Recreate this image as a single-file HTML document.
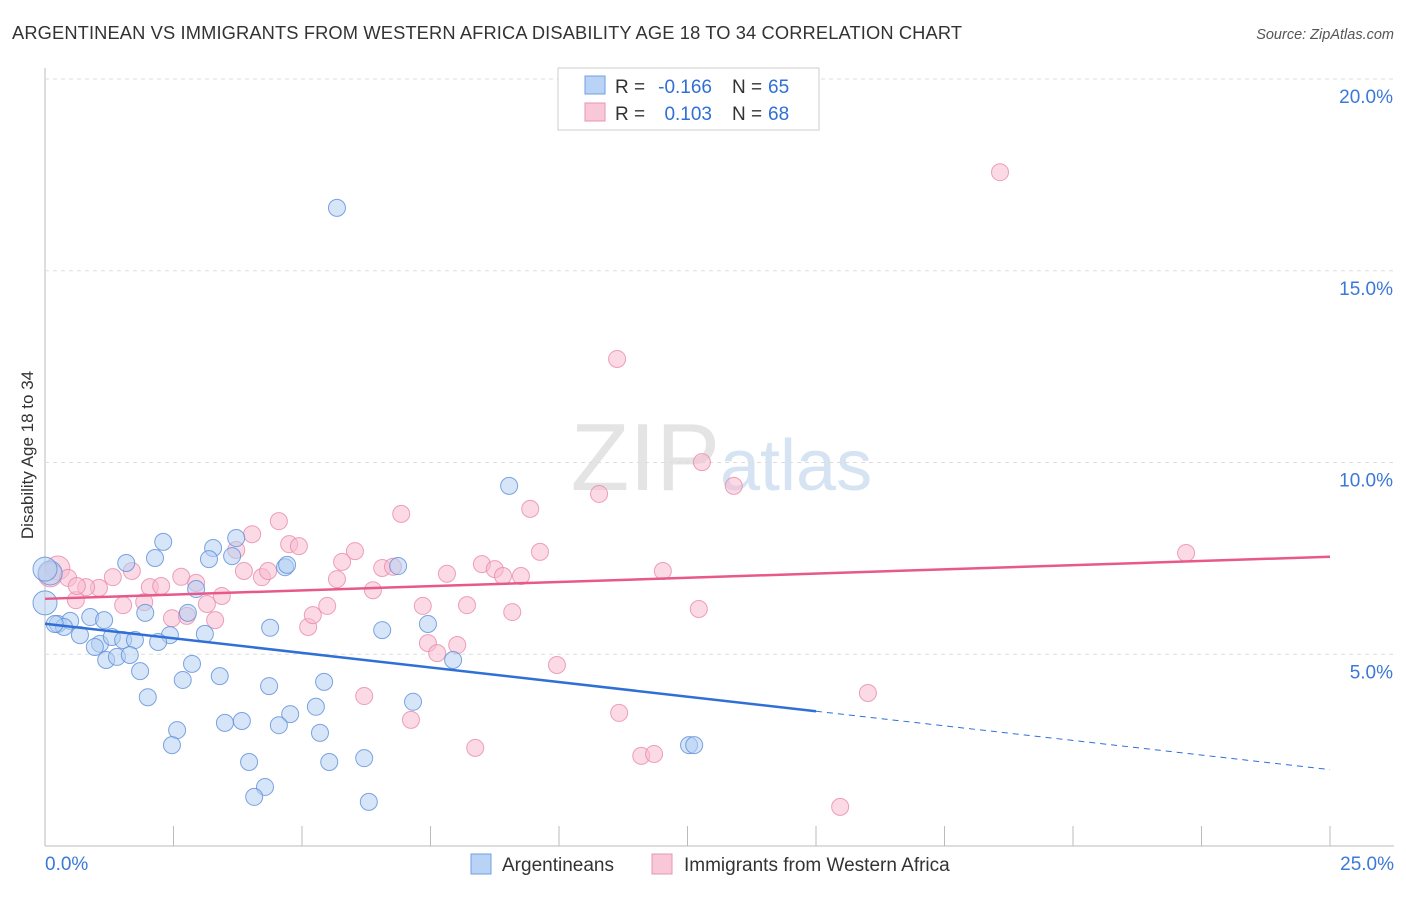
<!DOCTYPE html>
<html><head><meta charset="utf-8"><style>
body{margin:0;background:#fff;font-family:"Liberation Sans",sans-serif;}
svg text{font-family:"Liberation Sans",sans-serif;}
</style></head><body>
<svg width="1406" height="892" id="c">
<text x="12" y="39" font-size="18.3" fill="#333" textLength="950">ARGENTINEAN VS IMMIGRANTS FROM WESTERN AFRICA DISABILITY AGE 18 TO 34 CORRELATION CHART</text>
<text x="1394" y="39" font-size="14.5" fill="#555" font-style="italic" text-anchor="end">Source: ZipAtlas.com</text>
<text x="720" y="490" font-size="96" fill="#e4e4e4" text-anchor="end" font-family="Liberation Serif">ZIP</text>
<text x="720" y="490" font-size="72" fill="#d6e3f3">atlas</text>
<text transform="translate(33,455) rotate(-90)" font-size="17" fill="#333" text-anchor="middle">Disability Age 18 to 34</text>
<g id="grid"></g><g id="pts"></g><g id="lines"></g>
<g>
<rect x="558" y="68" width="261" height="62" fill="#fff" stroke="#ccc"/>
<rect x="585" y="76" width="20" height="18" fill="#b8d3f5" stroke="#6f9fe0"/>
<rect x="585" y="103" width="20" height="18" fill="#f9c8d8" stroke="#e994b1"/>
<text x="615" y="93" font-size="19" fill="#333">R =</text>
<text x="712" y="93" font-size="19" fill="#2f6fd6" text-anchor="end">-0.166</text>
<text x="732" y="93" font-size="19" fill="#333">N =</text>
<text x="768" y="93" font-size="19" fill="#2f6fd6">65</text>
<text x="615" y="120" font-size="19" fill="#333">R =</text>
<text x="712" y="120" font-size="19" fill="#2f6fd6" text-anchor="end">0.103</text>
<text x="732" y="120" font-size="19" fill="#333">N =</text>
<text x="768" y="120" font-size="19" fill="#2f6fd6">68</text>
</g>
<g>
<rect x="471" y="854" width="20" height="20" fill="#b8d3f5" stroke="#6f9fe0"/>
<text x="502" y="871" font-size="19" fill="#333">Argentineans</text>
<rect x="652" y="854" width="20" height="20" fill="#f9c8d8" stroke="#e994b1"/>
<text x="684" y="871" font-size="19" fill="#333">Immigrants from Western Africa</text>
</g>
</svg>
<script>
const xTicks=[0,2.5,5,7.5,10,12.5,15,17.5,20,22.5,25];
const yTicks=[5,10,15,20];
const blueX=[5.68,9.03,2.30,1.58,2.14,3.27,3.72,3.19,3.64,4.67,4.71,6.87,2.94,1.95,0.88,1.15,0.25,0.49,0.37,0.68,1.07,1.30,1.52,1.75,0.97,1.19,1.40,1.65,2.43,2.20,3.11,2.86,2.68,1.85,2.00,3.40,4.36,5.43,7.16,2.57,3.50,3.83,2.47,4.77,4.55,5.27,5.35,3.97,5.53,6.21,4.28,4.07,6.30,4.38,6.56,7.45,7.94,12.53,12.63,2.78,0.00,0.10,0.00,0.19];
const blueY=[16.64,9.39,7.93,7.38,7.51,7.77,8.03,7.48,7.56,7.27,7.33,7.30,6.70,6.08,5.97,5.89,5.79,5.87,5.71,5.50,5.27,5.45,5.37,5.37,5.19,4.85,4.93,4.98,5.50,5.32,5.53,4.75,4.33,4.56,3.88,4.43,4.17,4.28,3.76,3.02,3.21,3.26,2.63,3.44,3.15,3.63,2.95,2.19,2.19,2.29,1.54,1.28,1.15,5.69,5.63,5.79,4.85,2.63,2.63,6.08,6.34,7.12,7.22,5.79];
const pinkX=[18.58,11.13,12.78,13.40,10.78,6.93,9.44,4.55,4.03,4.75,4.94,6.03,9.63,3.72,22.20,0.25,0.10,0.45,1.69,1.32,1.05,0.80,2.04,2.26,2.65,2.94,3.44,3.87,4.22,4.34,5.68,5.78,6.56,6.77,6.38,7.82,8.50,8.75,8.91,9.26,12.02,0.60,1.52,1.93,2.47,2.76,3.15,3.31,5.12,5.21,5.49,7.35,8.21,9.09,12.72,7.45,7.63,8.02,9.96,6.21,16.01,7.12,11.17,8.37,11.60,11.85,15.47,0.62];
const pinkY=[17.57,12.70,10.01,9.39,9.18,8.66,8.79,8.47,8.13,7.87,7.82,7.69,7.67,7.72,7.64,7.25,7.07,6.99,7.17,7.01,6.73,6.75,6.75,6.78,7.02,6.86,6.52,7.17,7.01,7.17,6.96,7.41,7.25,7.28,6.67,7.10,7.35,7.22,7.04,7.04,7.17,6.41,6.28,6.36,5.94,6.00,6.31,5.89,5.71,6.02,6.26,6.26,6.28,6.10,6.18,5.29,5.03,5.24,4.72,3.91,3.99,3.29,3.47,2.56,2.35,2.40,1.02,6.78];
const blueBig=[60,61,62];const pinkBig=[15,16];
const X=v=>45+v*51.4, Y=v=>846-v*38.35;
const NS="http://www.w3.org/2000/svg";
function mk(t,a,p){const e=document.createElementNS(NS,t);for(const k in a)e.setAttribute(k,a[k]);p.appendChild(e);return e;}
const svg=document.getElementById('c'),grid=document.getElementById('grid'),pts=document.getElementById('pts'),lines=document.getElementById('lines');
const ax=mk('line',{x1:45,y1:68,x2:45,y2:846,stroke:'#bbb'},grid);


const bx=mk('line',{x1:45,y1:846,x2:1394,y2:846,stroke:'#bbb'},grid);


yTicks.forEach(t=>{
 const g=mk('line',{x1:45,y1:Y(t),x2:1394,y2:Y(t),stroke:'#ddd','stroke-dasharray':'4,4'},grid);
 
 
 const l=mk('text',{x:1393,y:Y(t)+24,'font-size':19,fill:'#3b78d8','text-anchor':'end'},grid);l.textContent=t.toFixed(1)+'%';
 
 
});
xTicks.forEach(t=>{
 const k=mk('line',{x1:X(t),y1:826,x2:X(t),y2:846,stroke:'#bbb'},grid);
 
 
});
[[0,'start',45],[25,'end',1394]].forEach(([t,a,x])=>{
 const l=mk('text',{x:x,y:870,'font-size':19,fill:'#3b78d8','text-anchor':a},grid);l.textContent=t.toFixed(1)+'%';
 
 
});
function draw(xs,ys,big,fill,stroke,name){
 xs.forEach((v,i)=>{const c=mk('circle',{cx:X(v),cy:Y(ys[i]),r:big.includes(i)?12:8.5,fill:fill,'fill-opacity':0.55,stroke:stroke,'stroke-opacity':0.8},pts);
 
 });
}
draw(pinkX,pinkY,pinkBig,'#f7bccf','#e98aab','pink-point');
draw(blueX,blueY,blueBig,'#b5cff2','#5c8fd9','blue-point');
function fit(xs,ys){const n=xs.length;let mx=0,my=0;xs.forEach((v,i)=>{mx+=v;my+=ys[i]});mx/=n;my/=n;let sxy=0,sxx=0;xs.forEach((v,i)=>{sxy+=(v-mx)*(ys[i]-my);sxx+=(v-mx)**2});const b=sxy/sxx;return [my-b*mx,b];}
const [ba,bb]=fit(blueX,blueY),[pa,pb]=fit(pinkX,pinkY);
const b1=mk('line',{x1:X(0),y1:Y(ba),x2:X(15),y2:Y(ba+bb*15),stroke:'#2f6fd6','stroke-width':2.5},lines);


const b2=mk('line',{x1:X(15),y1:Y(ba+bb*15),x2:X(25),y2:Y(ba+bb*25),stroke:'#2f6fd6','stroke-width':1,'stroke-dasharray':'6,5'},lines);


const p1=mk('line',{x1:X(0),y1:Y(pa),x2:X(25),y2:Y(pa+pb*25),stroke:'#e8588a','stroke-width':2.5},lines);


</script>
</body></html>
